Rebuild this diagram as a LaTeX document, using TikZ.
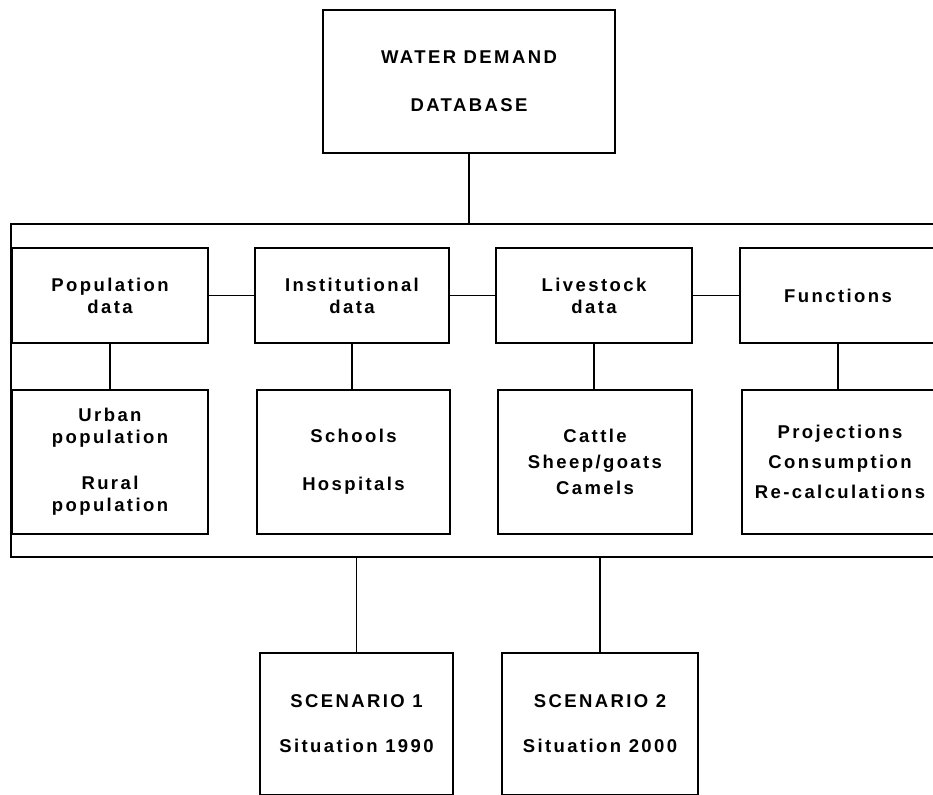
\documentclass[tikz,border=0pt]{standalone}
\usepackage{fontspec}
\setmainfont[LetterSpace=13]{Liberation Sans}
\usepackage{tikz}

\begin{document}
\begin{tikzpicture}[x=1pt,y=-1pt]
\tikzstyle{every node}+=[inner sep=0pt]
\tikzstyle{box}=[draw, line width=1.6pt, align=center, font=\fontsize{18.5}{22}\selectfont\bfseries]
\tikzstyle{wire}=[line width=1.6pt]
\useasboundingbox (0,0) rectangle (933,794);
\clip (0,0) rectangle (933,794);
% top box
\node [box, minimum width=292pt, minimum height=143pt] (db) at (469,81.5) {WATER DEMAND\\[26pt]DATABASE};
% frame round the data groups
\node [draw, line width=1.6pt, minimum width=934pt, minimum height=333pt] (frame) at (478,390.5) {};
% data groups
\node [box, minimum width=196pt, minimum height=95pt] (pop) at (110,295.5) {Population\\data};
\node [box, minimum width=194pt, minimum height=95pt] (inst) at (352,295.5) {Institutional\\data};
\node [box, minimum width=196pt, minimum height=95pt] (live) at (594,295.5) {Livestock\\data};
\node [box, minimum width=196pt, minimum height=95pt] (func) at (838,295.5) {Functions};
% their contents
\node [box, minimum width=196pt, minimum height=144pt] (urban) at (110,462) {Urban\\population\\[24pt]Rural\\population};
\node [box, minimum width=193pt, minimum height=144pt] (inst2) at (353.5,462) {Schools\\[26pt]Hospitals};
\node [box, minimum width=194pt, minimum height=144pt] (stock) at (595,462) {Cattle\\[4pt]Sheep/goats\\[4pt]Camels};
\node [box, minimum width=196pt, minimum height=144pt] (proj) at (840,462) {Projections\\[8pt]Consumption\\[8pt]Re-calculations};
% scenarios
\node [box, minimum width=193pt, minimum height=142pt] (sc1) at (356.5,724) {SCENARIO 1\\[23pt]Situation 1990};
\node [box, minimum width=196pt, minimum height=142pt] (sc2) at (600,724) {SCENARIO 2\\[23pt]Situation 2000};
% connectors
\draw [wire] (db.south) -- (db.south |- frame.north);
\draw [wire] (pop.east) -- (inst.west);
\draw [wire] (inst.east) -- (live.west);
\draw [wire] (live.east) -- (func.west);
\draw [wire] (pop.south) -- (pop.south |- urban.north);
\draw [wire] (inst.south) -- (inst.south |- inst2.north);
\draw [wire] (live.south) -- (live.south |- stock.north);
\draw [wire] (func.south) -- (func.south |- proj.north);
\draw [wire] (sc1.north |- frame.south) -- (sc1.north);
\draw [wire] (sc2.north |- frame.south) -- (sc2.north);
\end{tikzpicture}
\end{document}
